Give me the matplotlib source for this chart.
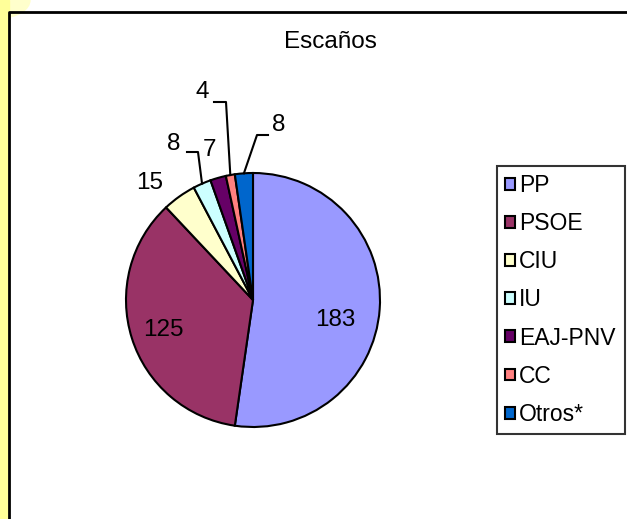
import numpy as np
import matplotlib.pyplot as plt
from matplotlib.patches import Rectangle, Ellipse

plt.rcParams["font.family"] = ["Liberation Sans", "DejaVu Sans"]

partidos = ["PP", "PSOE", "CIU", "IU", "EAJ-PNV", "CC", "Otros*"]
escanos = [183, 125, 15, 8, 7, 4, 8]
colores = ["#9999FF", "#993366", "#FFFFCC", "#CCFFFF", "#660066", "#FF8080", "#0066CC"]

W, H = 627, 519
fig = plt.figure(figsize=(W / 100, H / 100), dpi=100)
ax = fig.add_axes([0, 0, 1, 1])

# fondo amarillo a la izquierda y zona blanca del grafico
ax.add_patch(Ellipse((0, H), 60, 36, color="#FFFFCC", zorder=0))
ax.add_patch(Rectangle((0, 0), 9, H, color="#FFFF99", zorder=0))
ax.plot([9, 9, W], [0, H - 12, H - 12], color="black", lw=2, zorder=1)

cx, cy, r = 253, H - 300, 127
wedges, _ = ax.pie(
    escanos,
    colors=colores,
    startangle=90,
    counterclock=False,
    center=(cx, cy),
    radius=r,
    frame=True,
    wedgeprops=dict(edgecolor="black", linewidth=1.5),
)
ax.set_xlim(0, W)
ax.set_ylim(0, H)
ax.set_aspect("equal")
ax.axis("off")

fs = 17.5
ax.text(330, H - 42, "Escaños", ha="center", va="center", fontsize=fs)

# posiciones de las etiquetas (x, y en pixeles) y codos de las lineas guia
etiquetas_pos = [(335, 320), (163, 330), (150, 183), (174, 144), (210, 150), (202, 92), (279, 125)]
codos = [None, None, None, ((198, 152), (187, 152)), None,
         ((226, 102), (214, 102)), ((257, 135), (268, 135))]

for w, v, (tx, ty), codo in zip(wedges, escanos, etiquetas_pos, codos):
    ax.text(tx, H - ty, str(v), ha="center", va="center", fontsize=fs)
    if codo is not None:
        ang = np.deg2rad((w.theta1 + w.theta2) / 2)
        ex, ey = cx + r * np.cos(ang), cy + r * np.sin(ang)
        xs = [ex, codo[0][0], codo[1][0]]
        ys = [ey, H - codo[0][1], H - codo[1][1]]
        ax.plot(xs, ys, color="black", lw=1.5)

leg = ax.legend(
    wedges, partidos,
    loc="upper left",
    bbox_to_anchor=(497 / W, 1 - 166 / H, 128 / W, 0),
    bbox_transform=fig.transFigure,
    mode="expand",
    fontsize=16.5,
    frameon=True,
    fancybox=False,
    handlelength=0.42,
    handleheight=0.42,
    handletextpad=0.2,
    labelspacing=0.66,
    borderpad=0.35,
    borderaxespad=0,
)
leg.get_frame().set_edgecolor("black")
leg.get_frame().set_linewidth(1.5)
for h in leg.legend_handles:
    h.set_linewidth(1.5)

plt.savefig("out.png", dpi=100)
